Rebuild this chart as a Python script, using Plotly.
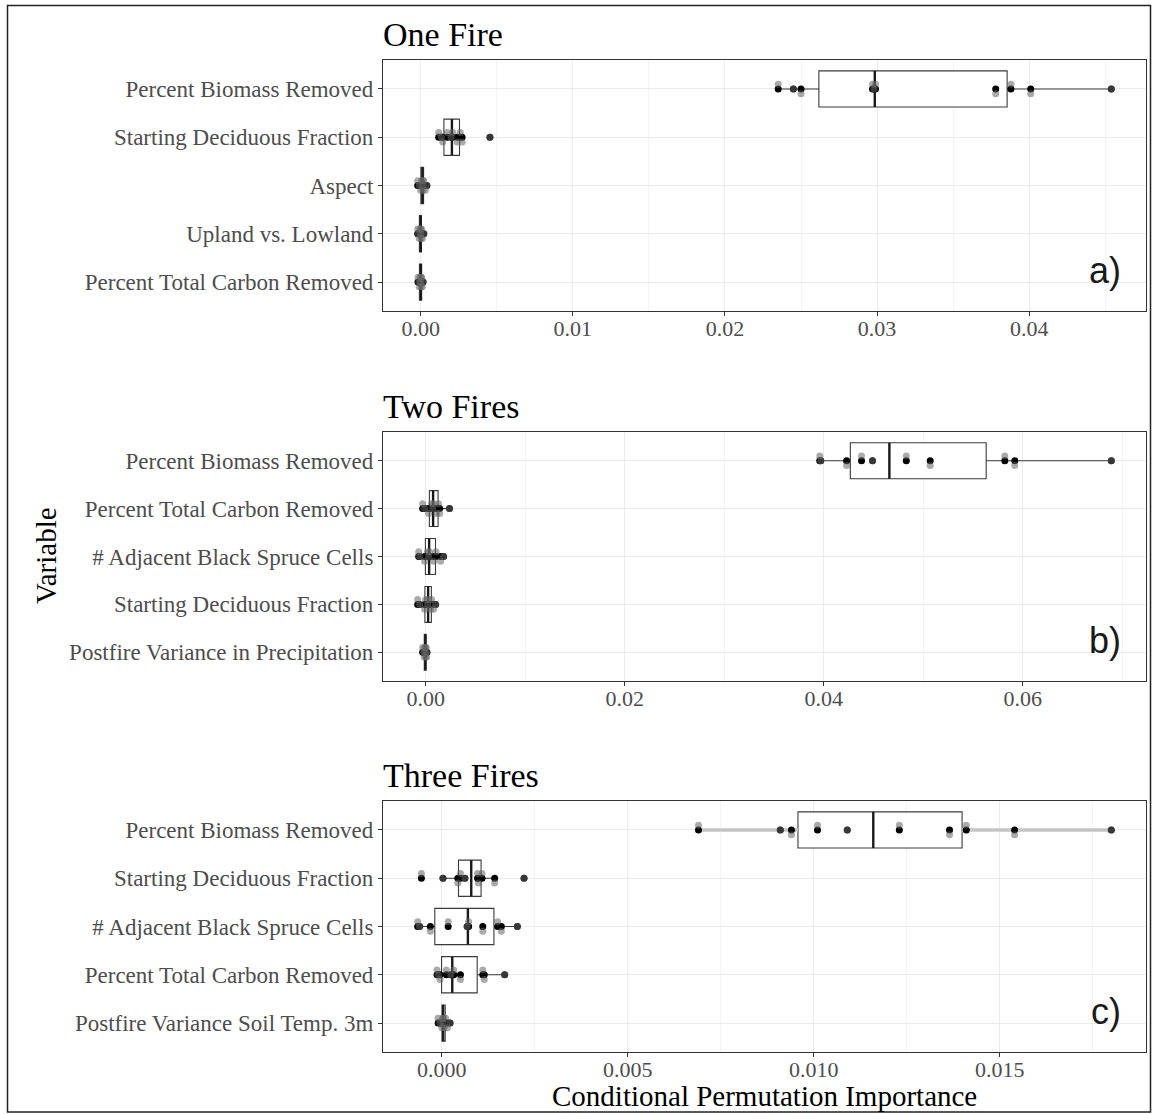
import numpy as np
import plotly.graph_objects as go

# ---- Conditional permutation importance, 10 runs per variable ----
ONE_FIRE_VARS = ["Percent Biomass Removed", "Starting Deciduous Fraction", "Aspect",
                 "Upland vs. Lowland", "Percent Total Carbon Removed"]
ONE_BIOMASS = [0.0235, 0.0245, 0.0250, 0.0297, 0.0298, 0.0299, 0.0378, 0.0388, 0.0401, 0.0454]
ONE_DECID = [0.00118, 0.00135, 0.00145, 0.00175, 0.00200, 0.00210, 0.00240, 0.00260, 0.00272, 0.00455]
ONE_ASPECT = [-0.0002, -0.0001, 0.0, 0.00005, 0.0001, 0.00012, 0.00015, 0.0002, 0.0003, 0.0004]
ONE_UPLAND = [-0.0002, -0.00015, -0.0001, -0.00005, 0.0, 0.0, 0.00003, 0.00005, 0.0001, 0.0002]
ONE_CARBON = [-0.00018, -0.00012, -0.0001, -0.00004, 0.0, 0.00002, 0.00004, 0.00006, 0.0001, 0.00015]

TWO_FIRE_VARS = ["Percent Biomass Removed", "Percent Total Carbon Removed", "# Adjacent Black Spruce Cells",
                 "Starting Deciduous Fraction", "Postfire Variance in Precipitation"]
TWO_BIOMASS = [0.0396, 0.0397, 0.0423, 0.0438, 0.0449, 0.0483, 0.0507, 0.0582, 0.0592, 0.0689]
TWO_CARBON = [-0.0003, -0.0001, 0.0003, 0.0006, 0.0007, 0.0008, 0.0011, 0.0013, 0.0014, 0.0024]
TWO_SPRUCE = [-0.0007, -0.0006, -0.0001, 0.0002, 0.0003, 0.0004, 0.0008, 0.00105, 0.0015, 0.0018]
TWO_DECID = [-0.0008, -0.0006, -0.0001, 0.0, 0.0002, 0.0003, 0.0005, 0.0006, 0.0008, 0.0010]
TWO_PRECIP = [-0.0003, -0.0002, -0.00015, -0.0001, -0.00005, 0.0, 0.0, 0.00005, 0.0001, 0.00012]

THREE_FIRE_VARS = ["Percent Biomass Removed", "Starting Deciduous Fraction", "# Adjacent Black Spruce Cells",
                   "Percent Total Carbon Removed", "Postfire Variance Soil Temp. 3m"]
THREE_BIOMASS = [0.0069, 0.0091, 0.0094, 0.0101, 0.0109, 0.0123, 0.01365, 0.0141, 0.0154, 0.0180]
THREE_DECID = [-0.00055, 0.00003, 0.00043, 0.00050, 0.00062, 0.00096, 0.00098, 0.00108, 0.00142, 0.00221]
THREE_SPRUCE = [-0.00065, -0.00060, -0.00031, 0.00017, 0.00068, 0.00072, 0.00110, 0.00150, 0.00160, 0.00203]
THREE_CARBON = [-0.00013, -0.00010, -0.00005, 0.00012, 0.00024, 0.00032, 0.00050, 0.00110, 0.00114, 0.00169]
THREE_SOIL = [-0.0001, -0.00005, 0.0, 0.00002, 0.00003, 0.00004, 0.00006, 0.00010, 0.00015, 0.00022]

PANEL_TITLES = ["One Fire", "Two Fires", "Three Fires"]
PANEL_TAGS = ["a)", "b)", "c)"]
X_DTICK = [0.01, 0.02, 0.005]
X_MINOR = [0.005, 0.01, 0.0025]
X_FORMAT = [".2f", ".2f", ".3f"]

panels = [
    dict(names=ONE_FIRE_VARS, values=[ONE_BIOMASS, ONE_DECID, ONE_ASPECT, ONE_UPLAND, ONE_CARBON], light_whisker=[]),
    dict(names=TWO_FIRE_VARS, values=[TWO_BIOMASS, TWO_CARBON, TWO_SPRUCE, TWO_DECID, TWO_PRECIP], light_whisker=[]),
    dict(names=THREE_FIRE_VARS, values=[THREE_BIOMASS, THREE_DECID, THREE_SPRUCE, THREE_CARBON, THREE_SOIL],
         light_whisker=[0]),
]

# ---- page geometry (pixels) ----
W, H = 1154, 1114
PLOT_LEFT, PLOT_RIGHT = 383, 1146
PANEL_TOPS = [60, 432, 801]
PANEL_BOTTOMS = [311, 681, 1052]

SERIF = "Liberation Serif, Times New Roman, serif"
SANS = "Liberation Sans, Arial, sans-serif"
TICK_GREY = "#4d4d4d"
GRID = "#ebebeb"
BOX_WIDTH = 0.75
# vertical shift of the translucent copy of each run's point
GRAY_SHIFT = [0.1, 0.0, -0.1, 0.1, 0.0, 0.1, -0.1, 0.1, -0.1, 0.0]


def fx(px):
    return px / W


def fy(py):
    return 1 - py / H


fig = go.Figure()
layout_axes = {}
annotations = []

for k, panel in enumerate(panels):
    sfx = "" if k == 0 else str(k + 1)
    xref, yref = "x" + sfx, "y" + sfx
    names = panel["names"]
    n = len(names)
    pos = [n - 1 - i for i in range(n)]

    all_vals = np.concatenate([np.asarray(v, dtype=float) for v in panel["values"]])
    lo_all, hi_all = all_vals.min(), all_vals.max()
    pad = 0.05 * (hi_all - lo_all)

    for i, vals in enumerate(panel["values"]):
        v = np.asarray(vals, dtype=float)
        q1, med, q3 = np.percentile(v, [25, 50, 75])
        iqr = q3 - q1
        lo = v[v >= q1 - 1.5 * iqr].min()
        hi = v[v <= q3 + 1.5 * iqr].max()
        p = pos[i]

        fig.add_trace(go.Box(
            y=[p], q1=[q1], median=[med], q3=[q3], lowerfence=[lo], upperfence=[hi],
            orientation="h", width=BOX_WIDTH, fillcolor="white",
            line=dict(color="#3a3a3a", width=1.1), whiskerwidth=0, boxpoints=False,
            xaxis=xref, yaxis=yref, showlegend=False, hoverinfo="skip"))

        if i in panel["light_whisker"]:
            fig.add_trace(go.Scatter(
                x=[lo, q1, None, q3, hi], y=[p, p, None, p, p], mode="lines",
                line=dict(color="#c4c4c4", width=3.5), xaxis=xref, yaxis=yref,
                showlegend=False, hoverinfo="skip"))

        # heavier median bar
        fig.add_trace(go.Scatter(
            x=[med, med], y=[p - BOX_WIDTH / 2, p + BOX_WIDTH / 2], mode="lines",
            line=dict(color="#1a1a1a", width=2.4), xaxis=xref, yaxis=yref,
            showlegend=False, hoverinfo="skip"))

        fig.add_trace(go.Scatter(
            x=v, y=[p] * len(v), mode="markers",
            marker=dict(color="black", size=7),
            xaxis=xref, yaxis=yref, showlegend=False, hoverinfo="skip"))

        fig.add_trace(go.Scatter(
            x=v, y=[p + GRAY_SHIFT[j % len(GRAY_SHIFT)] for j in range(len(v))], mode="markers",
            marker=dict(color="rgba(100,100,100,0.55)", size=7),
            xaxis=xref, yaxis=yref, showlegend=False, hoverinfo="skip"))

    top, bottom = PANEL_TOPS[k], PANEL_BOTTOMS[k]
    layout_axes["xaxis" + sfx] = dict(
        domain=[fx(PLOT_LEFT), fx(PLOT_RIGHT)], anchor=yref,
        range=[lo_all - pad, hi_all + pad], tick0=0, dtick=X_DTICK[k], tickformat=X_FORMAT[k],
        showgrid=True, gridcolor=GRID, gridwidth=1,
        minor=dict(dtick=X_MINOR[k], tick0=0, showgrid=True, gridcolor="#f3f3f3", gridwidth=0.7),
        showline=True, mirror=True, linecolor="#333333", linewidth=1.1,
        ticks="outside", ticklen=4, tickcolor="#333333", ticklabelstandoff=-6,
        tickfont=dict(family=SERIF, size=22, color=TICK_GREY), zeroline=False)
    layout_axes["yaxis" + sfx] = dict(
        domain=[fy(bottom), fy(top)], anchor=xref,
        range=[-0.6, n - 0.4], tickvals=pos, ticktext=names,
        showgrid=True, gridcolor=GRID, gridwidth=1,
        showline=True, mirror=True, linecolor="#333333", linewidth=1.1,
        ticks="outside", ticklen=4, tickcolor="#333333",
        tickfont=dict(family=SERIF, size=23, color=TICK_GREY), zeroline=False)

    annotations.append(dict(
        text=PANEL_TITLES[k], xref="paper", yref="paper", x=fx(PLOT_LEFT - 2), y=fy(top - 5),
        xanchor="left", yanchor="bottom", showarrow=False,
        font=dict(family=SERIF, size=34, color="black")))
    annotations.append(dict(
        text=PANEL_TAGS[k], xref="paper", yref="paper", x=fx(1123), y=fy(bottom - 41),
        xanchor="right", yanchor="middle", showarrow=False,
        font=dict(family=SANS, size=36, color="#1a1a1a")))

annotations.append(dict(
    text="Variable", xref="paper", yref="paper", x=fx(46), y=fy(555), textangle=-90,
    xanchor="center", yanchor="middle", showarrow=False,
    font=dict(family=SERIF, size=29, color="black")))
annotations.append(dict(
    text="Conditional Permutation Importance", xref="paper", yref="paper",
    x=fx((PLOT_LEFT + PLOT_RIGHT) / 2), y=fy(1096), xanchor="center", yanchor="middle",
    showarrow=False, font=dict(family=SERIF, size=29, color="black")))

fig.update_layout(
    width=W, height=H, margin=dict(l=0, r=0, t=0, b=0),
    paper_bgcolor="white", plot_bgcolor="white",
    font=dict(family=SERIF), annotations=annotations,
    shapes=[dict(type="rect", xref="paper", yref="paper",
                 x0=fx(7.5), x1=fx(1150.5), y0=fy(1112), y1=fy(5.5),
                 line=dict(color="#222222", width=1.5))],
    **layout_axes)

fig.write_html("out.html")
